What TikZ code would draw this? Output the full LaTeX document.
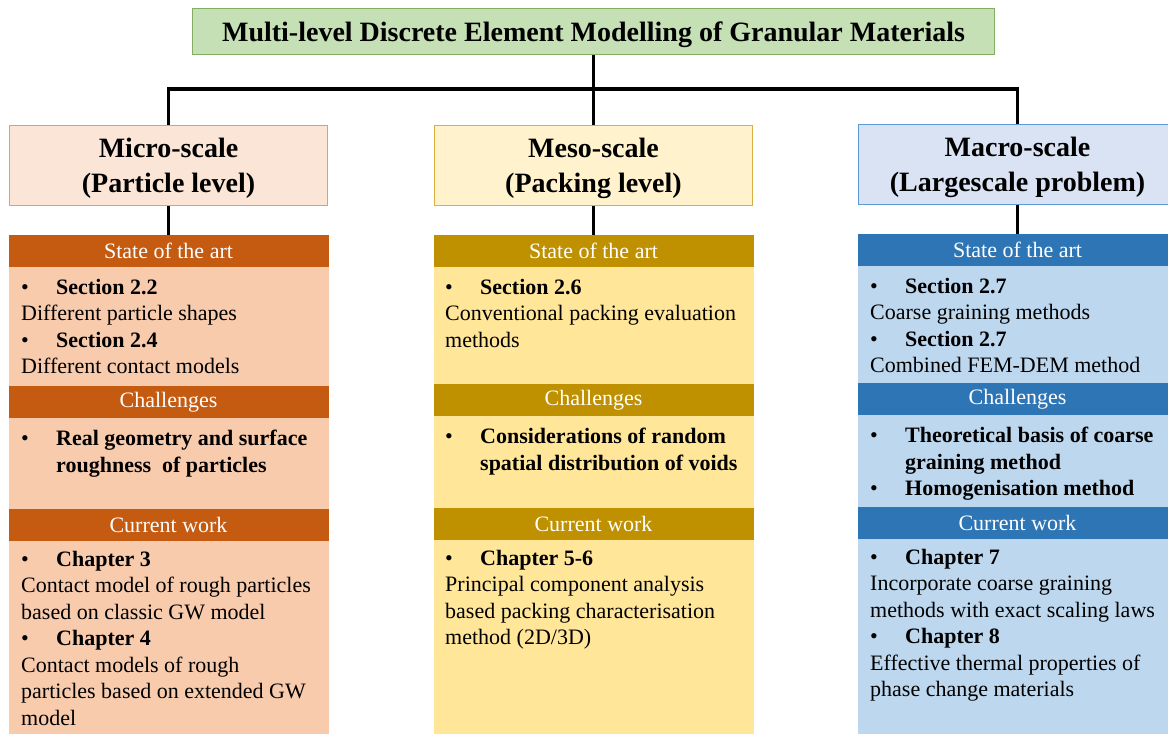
\documentclass[tikz,border=0pt]{standalone}
\usepackage{fontspec}
\setmainfont{Liberation Serif}
\usetikzlibrary{positioning}
\definecolor{titlefill}{HTML}{C5E0B4}
\definecolor{titleline}{HTML}{82AD62}
\definecolor{microfill}{HTML}{FBE5D6}
\definecolor{microline}{HTML}{EE9A62}
\definecolor{microhead}{HTML}{C55A11}
\definecolor{microbody}{HTML}{F8CBAD}
\definecolor{mesofill}{HTML}{FFF2CC}
\definecolor{mesoline}{HTML}{D6B040}
\definecolor{mesohead}{HTML}{BF9000}
\definecolor{mesobody}{HTML}{FFE699}
\definecolor{macrofill}{HTML}{DAE3F3}
\definecolor{macroline}{HTML}{5B9BD5}
\definecolor{macrohead}{HTML}{2E75B6}
\definecolor{macrobody}{HTML}{BDD7EE}
\tikzset{
  titlebox/.style = {draw=titleline, fill=titlefill, line width=1pt, minimum width=802pt, minimum height=46pt, text depth=0pt, font=\bfseries\fontsize{28}{34}\selectfont},
  scalebox/.style = {line width=1pt, minimum width=318pt, minimum height=80pt, align=center, text depth=0pt, font=\bfseries\fontsize{28}{35}\selectfont},
  headbar/.style = {fill=#1, draw=#1, line width=0.4pt, outer sep=0pt, text=white, minimum width=319pt, minimum height=32pt, inner sep=0pt, font=\fontsize{22}{26}\selectfont},
  bodybox/.style = {fill=#1, draw=#1, line width=0.4pt, outer sep=0pt, minimum width=319pt, inner sep=0pt},
  bodytext/.style = {anchor=north west, inner sep=0pt, align=left, font=\fontsize{22}{26.5}\selectfont},
  conn/.style = {line width=3.5pt},
}
\newcommand{\bul}[1]{\makebox[35pt][l]{•}\textbf{#1}}
\newcommand{\hang}{\hspace*{35pt}}
\begin{document}
\begin{tikzpicture}[x=1pt,y=-1pt]
\clip (0,0) rectangle (1168,734);
% top level
\node[titlebox] (title) at (593.5,31.5) {Multi-level Discrete Element Modelling of Granular Materials};
\node[scalebox, draw=microline, fill=microfill] (micro) at (168.5,165.5) {Micro-scale\\(Particle level)};
\node[scalebox, draw=mesoline, fill=mesofill] (meso) at (593.5,165.5) {Meso-scale\\(Packing level)};
\node[scalebox, draw=macroline, fill=macrofill] (macro) at (1017.5,164.5) {Macro-scale\\(Largescale problem)};
% micro column
\node[headbar=microhead] (micro-h1) at (168.5,251) {State of the art};
\node[bodybox=microbody, minimum height=119pt, below=0pt of micro-h1] (micro-b1) {};
\node[headbar=microhead, below=0pt of micro-b1] (micro-h2) {Challenges};
\node[bodybox=microbody, minimum height=91pt, below=0pt of micro-h2] (micro-b2) {};
\node[headbar=microhead, below=0pt of micro-b2] (micro-h3) {Current work};
\node[bodybox=microbody, minimum height=200pt, below=0pt of micro-h3] (micro-b3) {};
% meso column
\node[headbar=mesohead] (meso-h1) at (593.5,251) {State of the art};
\node[bodybox=mesobody, minimum height=117pt, below=0pt of meso-h1] (meso-b1) {};
\node[headbar=mesohead, below=0pt of meso-b1] (meso-h2) {Challenges};
\node[bodybox=mesobody, minimum height=92pt, below=0pt of meso-h2] (meso-b2) {};
\node[headbar=mesohead, below=0pt of meso-b2] (meso-h3) {Current work};
\node[bodybox=mesobody, minimum height=200pt, below=0pt of meso-h3] (meso-b3) {};
% macro column
\node[headbar=macrohead] (macro-h1) at (1017.5,250) {State of the art};
\node[bodybox=macrobody, minimum height=117pt, below=0pt of macro-h1] (macro-b1) {};
\node[headbar=macrohead, below=0pt of macro-b1] (macro-h2) {Challenges};
\node[bodybox=macrobody, minimum height=92pt, below=0pt of macro-h2] (macro-b2) {};
\node[headbar=macrohead, below=0pt of macro-b2] (macro-h3) {Current work};
\node[bodybox=macrobody, minimum height=200pt, below=0pt of macro-h3] (macro-b3) {};
% texts
\node[bodytext] (micro-t1) at ([shift={(12,12)}]micro-b1.north west) {\bul{Section 2.2}\\Different particle shapes\\\bul{Section 2.4}\\Different contact models};
\node[bodytext] (micro-t2) at ([shift={(12,12)}]micro-b2.north west) {\bul{Real geometry and surface}\\\hang\textbf{roughness\ \ of particles}};
\node[bodytext] (micro-t3) at ([shift={(12,10)}]micro-b3.north west) {\bul{Chapter 3}\\Contact model of rough particles\\based on classic GW model\\\bul{Chapter 4}\\Contact models of rough\\particles based on extended GW\\model};
\node[bodytext] (meso-t1) at ([shift={(11,12)}]meso-b1.north west) {\bul{Section 2.6}\\Conventional packing evaluation\\methods};
\node[bodytext] (meso-t2) at ([shift={(11,12)}]meso-b2.north west) {\bul{Considerations of random}\\\hang\textbf{spatial distribution of voids}};
\node[bodytext] (meso-t3) at ([shift={(11,10)}]meso-b3.north west) {\bul{Chapter 5-6}\\Principal component analysis\\based packing characterisation\\method (2D/3D)};
\node[bodytext] (macro-t1) at ([shift={(12,12)}]macro-b1.north west) {\bul{Section 2.7}\\Coarse graining methods\\\bul{Section 2.7}\\Combined FEM-DEM method};
\node[bodytext] (macro-t2) at ([shift={(12,12)}]macro-b2.north west) {\bul{Theoretical basis of coarse}\\\hang\textbf{graining method}\\\bul{Homogenisation method}};
\node[bodytext] (macro-t3) at ([shift={(12,10)}]macro-b3.north west) {\bul{Chapter 7}\\Incorporate coarse graining\\methods with exact scaling laws\\\bul{Chapter 8}\\Effective thermal properties of\\phase change materials};
% connectors
\coordinate (bus) at (0,89);
\draw[conn] (title.south) -- (meso.north);
\draw[conn] (micro.north) -- (micro.north |- bus) -- (macro.north |- bus) -- (macro.north);
\draw[conn] (micro.south) -- (micro-h1.north);
\draw[conn] (meso.south) -- (meso-h1.north);
\draw[conn] (macro.south) -- (macro-h1.north);
\end{tikzpicture}
\end{document}
